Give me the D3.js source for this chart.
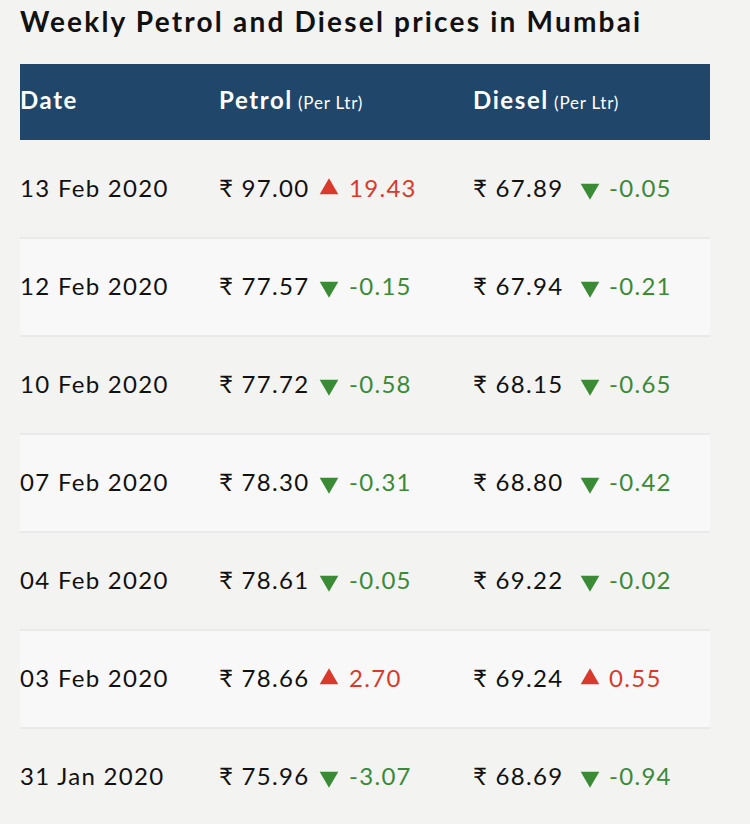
<!DOCTYPE html>
<html><head><meta charset="utf-8">
<script src="https://cdn.jsdelivr.net/npm/d3@7"></script>
<style>body{margin:0;background:#f3f3f2;} text{font-family:Lato,"Noto Sans",sans-serif;}</style>
</head><body><div id="chart"></div>
<script>
const dates = ["13 Feb 2020","12 Feb 2020","10 Feb 2020","07 Feb 2020","04 Feb 2020","03 Feb 2020","31 Jan 2020"];
const petrol = [97.00,77.57,77.72,78.30,78.61,78.66,75.96];
const petrolChange = [19.43,-0.15,-0.58,-0.31,-0.05,2.70,-3.07];
const diesel = [67.89,67.94,68.15,68.80,69.22,69.24,68.69];
const dieselChange = [-0.05,-0.21,-0.65,-0.42,-0.02,0.55,-0.94];

const W = 750, H = 824;
const svg = d3.select("#chart").append("svg").attr("width", W).attr("height", H);
svg.append("rect").attr("width", W).attr("height", H).attr("fill", "#f3f3f2");

svg.append("text").attr("x", 20).attr("y", 32).attr("font-size", 28).attr("font-weight", 700)
  .attr("letter-spacing", 2.2).attr("fill", "#111").text("Weekly Petrol and Diesel prices in Mumbai");

// header band
svg.append("rect").attr("x", 20).attr("y", 64).attr("width", 690).attr("height", 76).attr("fill", "#20476a");
const headers = [{x:20, t:"Date", s:""},{x:219, t:"Petrol", s:" (Per Ltr)"},{x:473, t:"Diesel", s:" (Per Ltr)"}];
headers.forEach(h => {
  const t = svg.append("text").attr("x", h.x).attr("y", 109).attr("fill", "#fff");
  t.append("tspan").attr("font-size", 24).attr("font-weight", 700).attr("letter-spacing", 1.6).text(h.t);
  if (h.s) t.append("tspan").attr("font-size", 17).attr("letter-spacing", 0.8).text(h.s);
});

const y = d3.scaleBand().domain(d3.range(dates.length)).range([140, 140 + 98 * dates.length]);

const rows = svg.selectAll("g.row").data(dates).join("g").attr("class", "row")
  .attr("transform", (d, i) => `translate(0,${y(i)})`);
rows.append("rect").attr("x", 20).attr("width", 690).attr("height", y.bandwidth())
  .attr("fill", (d, i) => i % 2 ? "#f8f8f8" : "#f3f3f2");
rows.filter((d, i) => i > 0).append("line").attr("x1", 20).attr("x2", 710)
  .attr("stroke", "#e6e6e6").attr("stroke-width", 1.5);

const base = y.bandwidth() / 2 + 8;
const red = "#d93a2b", green = "#3a8a36";
const fs = 24, ls = 1.3;
rows.append("text").attr("x", 20).attr("y", base).attr("font-size", fs).attr("letter-spacing", ls)
  .attr("fill", "#111").text(d => d);

function priceCol(vals, chg, x, triX, chgX) {
  rows.append("text").attr("x", x).attr("y", base).attr("font-size", fs).attr("letter-spacing", ls)
    .attr("fill", "#111").text((d, i) => "₹ " + vals[i].toFixed(2));
  rows.append("path")
    .attr("d", d3.symbol(d3.symbolTriangle, 150))
    .attr("transform", (d, i) => `translate(${triX},${base - 8}) rotate(${chg[i] >= 0 ? 0 : 180})`)
    .attr("fill", (d, i) => chg[i] >= 0 ? red : green);
  rows.append("text").attr("x", chgX).attr("y", base).attr("font-size", fs).attr("letter-spacing", ls)
    .attr("fill", (d, i) => chg[i] >= 0 ? red : green)
    .text((d, i) => chg[i].toFixed(2));
}
priceCol(petrol, petrolChange, 219, 329, 349);
priceCol(diesel, dieselChange, 473, 590, 609);
</script></body></html>
